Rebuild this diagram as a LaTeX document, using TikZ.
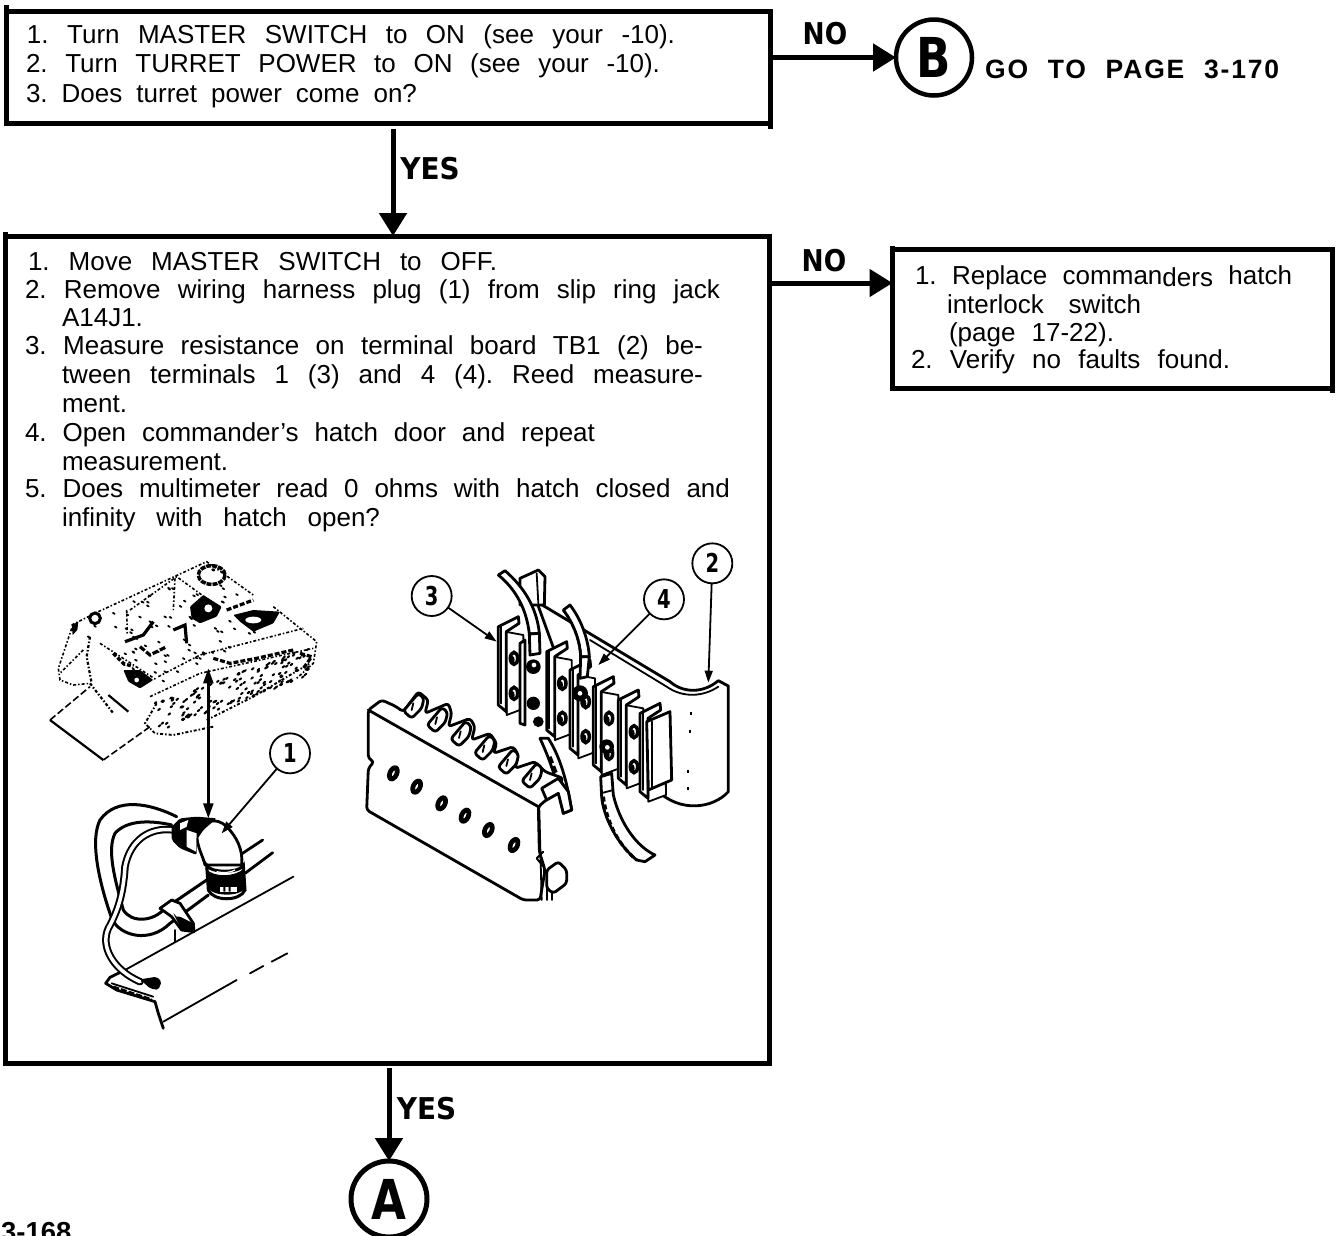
\documentclass[tikz,border=0pt]{standalone}
\usepackage{fontspec}
\setmainfont{Liberation Sans}
\newfontfamily\heavy{DejaVu Sans Bold}
\usetikzlibrary{arrows.meta,calc}
\frenchspacing
\tikzset{
  tl/.style={anchor=base west,inner sep=0pt,outer sep=0pt,font=\fontsize{26}{30}\selectfont},
  mainbox/.style={draw=black,line width=5pt,inner sep=0pt,outer sep=0pt,anchor=north west},
  flow/.style={line width=5pt,-{Triangle[length=23pt,width=27pt]}},
  bigcirc/.style={draw=black,circle,line width=4.5pt,inner sep=0pt,outer sep=0pt,minimum size=76pt,font=\heavy\fontsize{55}{55}\selectfont},
  lab/.style={inner sep=0pt,outer sep=0pt,font=\heavy\fontsize{30}{30}\selectfont},
  callout/.style={draw=black,circle,line width=1.8pt,inner sep=0pt,outer sep=0pt,minimum size=40pt,font=\heavy\fontsize{26}{26}\selectfont},
  lead/.style={line width=1.8pt,-{Triangle[length=12pt,width=8pt]}},
  ink/.style={line width=1.8pt,line cap=round,line join=round},
  hvy/.style={line width=2.8pt,line cap=round,line join=round},
  tankd/.style={line width=1.6pt,dash pattern=on 3pt off 2pt on 1.5pt off 2pt},
}
\newcommand{\J}[2]{\makebox[#1pt][s]{#2}}
\newcommand{\Sq}[2]{\scalebox{#1}[1]{#2}}
\begin{document}
\begin{tikzpicture}[x=1pt,y=-1pt]
\useasboundingbox (0,0) rectangle (1340,1235);
\fill[white] (0,0) rectangle (1340,1235);
% boxes
\node[mainbox,minimum width=764pt,minimum height=112.5pt] (b1) at (6.5,11) {};
\node[mainbox,minimum width=764pt,minimum height=827pt] (b2) at (5.5,236) {};
\node[mainbox,minimum width=439.5pt,minimum height=139pt] (b3) at (892.5,249) {};
\draw[line width=5pt] (b1.north west) -- ++(0,-6) (b1.south east) -- ++(0,5) (b2.north west) -- ++(0,-4) (b3.south east) -- ++(0,5) (b3.north west) -- ++(0,-3);
% box 1 text
\node[tl] (t11) at (27,43.5) {\J{648}{1. Turn MASTER SWITCH to ON (see your -10).}};
\node[tl] (t12) at (26,72.7) {\J{634}{2. Turn TURRET POWER to ON (see your -10).}};
\node[tl] (t13) at (26,102.5) {\J{391}{3. Does turret power come on?}};
% box 2 text
\node[tl] (t21) at (28,270) {\J{469}{1. Move MASTER SWITCH to OFF.}};
\node[tl] (t22) at (25,298) {\J{695}{2. Remove wiring harness plug (1) from slip ring jack}};
\node[tl] (t23) at (62,326) {A14J1.};
\node[tl] (t24) at (25,354) {\J{678}{3. Measure resistance on terminal board TB1 (2) be-}};
\node[tl] (t25) at (62,383) {\J{641}{tween terminals 1 (3) and 4 (4). Reed measure-}};
\node[tl] (t26) at (62,412) {ment.};
\node[tl] (t27) at (25,441) {\J{570}{4. Open commander's hatch door and repeat}};
\node[tl] (t28) at (62,470) {measurement.};
\node[tl] (t29) at (25,497.5) {\J{705}{5. Does multimeter read 0 ohms with hatch closed and}};
\node[tl] (t210) at (62,526) {\J{318}{infinity with hatch open?}};
% box 3 text
\node[tl] (t31) at (915,284) {\J{377}{1. Replace comman\raisebox{-2.5pt}{ders} hatch}};
\node[tl] (t32) at (947,313) {\J{194}{interlock switch}};
\node[tl] (t33) at (949,341) {\J{165}{(page 17-22).}};
\node[tl] (t34) at (911,368) {\J{319}{2. Verify no faults found.}};
% circles and connectors
\node[bigcirc] (cB) at (934,57.5) {\Sq{0.82}{B}};
\node[bigcirc,line width=5pt] (cA) at (389,1199) {\Sq{0.82}{A}};
\draw[flow] (b1.east |- cB.center) -- (cB.west);
\coordinate (n2) at (769.5,283);
\draw[flow] (n2) -- (n2 -| b3.west);
\coordinate (y1) at (393,129);
\draw[flow] (y1) -- (y1 |- b2.north);
\coordinate (y2) at (389,1068);
\draw[flow] (y2) -- (cA.north);
\node[lab] (no1) at (825,34) {\Sq{0.88}{NO}};
\node[lab] (no2) at (824,261) {\Sq{0.88}{NO}};
\node[lab] (ye1) at (430,169) {\Sq{0.93}{YES}};
\node[lab] (ye2) at (426.5,1109) {\Sq{0.93}{YES}};
\node[anchor=base west,inner sep=0pt,font=\bfseries\fontsize{26.5}{30}\selectfont] (goto) at (985,78)
  {\makebox[294pt][s]{\addfontfeature{LetterSpace=7}GO TO PAGE 3-170}};
\node[anchor=base west,inner sep=0pt,font=\bfseries\fontsize{27.5}{30}\selectfont] (pg) at (1,1241) {3-168};

% ---- illustration 1
\begin{scope}[shift={(40,540)},x=0.33333pt,y=-0.33333pt]
 % tank
 \draw[tankd] (175,215)--(500,65)--(640,165) (700,200)--(830,305)--(820,370)--(770,415);
 \draw[tankd] (95,255)--(175,215) (95,265)--(55,385)--(60,420)--(100,435)--(150,430);
 \draw[tankd] (355,410)--(480,345)--(790,265);
 \draw[tankd] (330,470)--(480,400)--(820,325);
 \draw[tankd] (270,210)--(410,110)--(520,190) (260,210)--(262,285) (405,115)--(400,210);
 \draw[tankd] (130,330)--(60,400) (180,310)--(350,420);
 \draw[tankd,line width=2.2pt] (150,290)--(140,350)--(155,430) (150,430)--(220,520);
 \draw[tankd,line width=1.9pt] (350,490)--(315,550)--(345,580)--(400,585)--(520,560);
 \draw[tankd,line width=1.9pt] (500,540)--(640,470)--(810,370);
 \draw[line width=2.2pt] (30,540)--(190,660) (205,465)--(265,515);
 \draw[line width=1.6pt,dash pattern=on 7pt off 3pt] (30,540)--(150,440) (190,660)--(330,560);
 % stipple
 \pgfmathsetseed{17}
 \foreach \k in {1,...,150} {
   \pgfmathsetmacro{\uu}{rnd}\pgfmathsetmacro{\vv}{rnd}
   \pgfmathsetmacro{\px}{340+460*\uu+10*\vv}
   \pgfmathsetmacro{\py}{490-165*\uu+85*\vv}
   \draw[line width=2pt,line cap=round] (\px,\py)--++(5,-4);
 }
 \foreach \k in {1,...,90} {
   \pgfmathsetmacro{\uu}{rnd}\pgfmathsetmacro{\vv}{rnd}
   \pgfmathsetmacro{\px}{95+405*\uu+235*\vv}
   \pgfmathsetmacro{\py}{260-190*\uu+190*\vv}
   \draw[line width=1.8pt,line cap=round] (\px,\py)--++(5,3);
 }
 % blobs
 \draw[line width=3.5pt,dash pattern=on 5pt off 1pt] (515,105) ellipse[x radius=40,y radius=28];
 \draw[line width=3pt] (165,235) circle[radius=16];
 \fill (95,255)--(115,245)--(112,270)--(98,285)--cycle;
 \fill[rounded corners=1pt] (450,200)--(490,165)--(545,200)--(530,230)--(480,250)--(455,235)--cycle;
 \fill[white] (505,205) circle[radius=12];
 \fill[rounded corners=1pt] (580,225)--(640,210)--(720,215)--(700,250)--(640,275)--(600,245)--cycle;
 \fill[white] (640,240) ellipse[x radius=24,y radius=10];
 \fill[rounded corners=1pt] (250,390)--(300,390)--(340,420)--(300,445)--(265,425)--cycle;
 \fill[white] (290,420) circle[radius=7];
 \draw[line width=3.2pt] (255,305)--(310,285)--(340,245) (400,270)--(435,255)--(440,310);
 \draw[line width=3.2pt,dash pattern=on 6pt off 2pt] (300,320)--(330,345)--(380,320);
 \draw[line width=3.2pt,dash pattern=on 5pt off 2pt] (520,355)--(570,370)--(650,355)--(760,330);
 \draw[line width=3.2pt,dash pattern=on 5pt off 2pt] (560,210)--(640,180) (780,340)--(815,350)--(790,385);
 \draw[line width=3.2pt,dash pattern=on 4pt off 2pt] (220,340)--(250,370)--(280,380);
 % double arrow
 \draw[line width=2.4pt,{Triangle[length=15pt,width=10pt]}-{Triangle[length=15pt,width=10pt]}] (505,385)--(505,835);
 % plate
 \draw[ink] (255,1290)--(760,1010);
 \draw[ink] (370,1445)--(590,1320) (630,1300)--(670,1278) (695,1265)--(742,1240);
 \draw[hvy] (255,1290)--(210,1312)--(197,1330)--(230,1350)--(345,1385)--(355,1420)--(370,1465);
 \draw[ink] (215,1330)--(340,1370);
 \draw[line width=2.2pt,dash pattern=on 6pt off 2pt] (220,1340)--(335,1378);
 % tubes behind
 \draw[hvy] (600,945)--(668,900) (615,1000)--(698,938);
 % hoses
 \draw[line width=3pt,line cap=round] (410,830) .. controls (330,790) and (230,770) .. (180,840) .. controls (150,900) and (175,1020) .. (215,1135) .. controls (240,1190) and (330,1210) .. (390,1150) -- (505,1065);
 \draw[line width=3pt,line cap=round] (395,855) .. controls (330,840) and (260,840) .. (225,880) .. controls (200,930) and (225,1020) .. (250,1110) .. controls (275,1150) and (340,1145) .. (375,1105) -- (500,1020);
 % thin cable
 \draw[line width=7.5pt,line cap=round] (400,870) .. controls (330,860) and (270,900) .. (255,980) .. controls (250,1060) and (235,1110) .. (205,1165) .. controls (180,1220) and (220,1290) .. (300,1325);
 \draw[white,line width=3.5pt,line cap=round] (400,870) .. controls (330,860) and (270,900) .. (255,980) .. controls (250,1060) and (235,1110) .. (205,1165) .. controls (180,1220) and (220,1290) .. (300,1325);
 \fill[rounded corners=2pt] (300,1318)--(350,1310)--(365,1325)--(355,1350)--(330,1345)--cycle;
 % clamp
 \draw[hvy,fill=white] (360,1105)--(395,1080)--(420,1090)--(460,1150)--(462,1175)--(425,1170)--(395,1130)--cycle;
 \fill (400,1120)--(460,1150)--(462,1175)--(425,1170)--cycle;
 \fill[white] (385,1100)--(405,1090)--(430,1130)--(410,1130)--cycle;
 \draw[ink] (405,1170)--(405,1205);
 % connector
 \draw[hvy,fill=white] (470,880) .. controls (490,840) and (530,830) .. (560,860) .. controls (590,890) and (610,930) .. (605,975) -- (495,975) .. controls (490,950) and (470,920) .. (470,880);
 \draw[line width=3pt,fill=white] (500,975) .. controls (510,1000) and (600,1000) .. (610,975) -- (615,1050) .. controls (600,1085) and (520,1085) .. (505,1050) -- cycle;
 \fill (497,985) .. controls (520,1015) and (590,1010) .. (612,985) -- (615,1045) .. controls (600,1070) and (520,1070) .. (505,1045) -- cycle;
 \fill[white] (540,1040) rectangle (590,1055);
 \fill[black] (550,1040) rectangle (556,1055) (566,1040) rectangle (572,1055);
 \draw[white,line width=1.2pt] (530,995) .. controls (550,1000) and (570,998) .. (585,990);
 % plug
 \fill[rounded corners=2pt] (395,860)--(420,835)--(470,830)--(530,835)--(490,870)--(470,900)--(470,945)--(420,925)--(395,900)--cycle;
 \fill[white] (440,870)--(470,880)--(468,935)--(440,920)--cycle;
 \fill[white] (420,850)--(445,840)--(440,860)--(420,870)--cycle;
 % callout
 \node[callout] (c1) at (750,640) {\Sq{0.75}{1}};
 \coordinate (p1) at (545,880);
 \draw[lead] (c1) -- (p1);
\end{scope}

% ---- illustration 2
\begin{scope}[shift={(350,530)},x=0.33333pt,y=-0.33333pt]
 % bracket
 \draw[hvy,fill=white] (560,215)--(960,455) .. controls (1000,490) and (1060,490) .. (1105,452) -- (1135,468) -- (1135,785) .. controls (1090,835) and (990,850) .. (920,780) -- (700,600) -- (560,215);
 \draw[ink] (720,330)--(950,470) .. controls (1000,505) and (1060,500) .. (1105,470);
 \draw[hvy,fill=white] (510,145)--(565,120)--(585,140)--(583,225)--(510,225)--cycle;
 \draw[ink] (560,130)--(565,220);
 \foreach \a/\b in {1022/545,1020/600,1015/720,1015/770} {\draw[line width=1.8pt] (\a,\b)--++(0,10);}
 % terminal units
 \foreach \a/\b in {445/290,590/365,660/420,730/470,805/510,870/550} {
  \begin{scope}[shift={(\a,\b)}]
   \draw[ink,fill=white] (20,15)--(75,25)--(78,245)--(25,265)--cycle;
   \draw[hvy,fill=white] (0,0)--(60,-30)--(62,-10)--(24,15)--(24,255)--(0,235)--cycle;
   \draw[ink] (8,0)--(8,230);
   \draw[line width=3.5pt,fill=white] (47,95) ellipse[x radius=11,y radius=18];
   \fill (42,100) ellipse[x radius=7,y radius=12];
   \draw[line width=3.5pt,fill=white] (47,200) ellipse[x radius=11,y radius=18];
   \fill (42,205) ellipse[x radius=7,y radius=12];
  \end{scope}
 }
 \draw[hvy,fill=white] (510,340)--(525,330)--(525,585)--(510,580)--cycle;
 \draw[hvy,fill=white] (890,575)--(960,545)--(965,750)--(895,780)--cycle;
 \draw[ink] (905,575)--(905,770);
 % cables
 \draw[hvy,fill=white] (445,135)--(465,122) .. controls (520,170) and (560,230) .. (568,310) -- (538,312) .. controls (530,240) and (500,180) .. (445,135);
 \draw[hvy,fill=white] (538,312)--(568,310)--(570,370)--(540,375)--cycle;
 \draw[hvy,fill=white] (640,240)--(660,225) .. controls (695,270) and (715,330) .. (718,380) -- (692,380) .. controls (690,330) and (670,280) .. (640,240);
 \draw[line width=2.6pt,dash pattern=on 4pt off 2pt] (640,240) .. controls (670,280) and (690,330) .. (692,380);
 \draw[hvy,fill=white] (692,380)--(718,380)--(712,440)--(690,445)--cycle;
 \fill (550,410) circle[radius=22];
 \fill[white] (552,405) circle[radius=7];
 \fill (690,490) circle[radius=24];
 \fill[white] (690,490) circle[radius=7];
 \draw[hvy,fill=white] (570,625)--(595,625) .. controls (630,680) and (650,750) .. (665,840) -- (640,850) .. controls (625,760) and (600,690) .. (570,625);
 \fill (550,520) circle[radius=20];
 \fill (565,575) circle[radius=16];
 \fill (770,650) circle[radius=22];
 \fill[white] (772,652) circle[radius=7];
 \draw[line width=3.2pt,dash pattern=on 7pt off 3pt] (600,680)--(625,745);
 \draw[hvy,fill=white] (752,740)--(785,730)--(790,795) .. controls (810,880) and (860,950) .. (915,975) -- (885,995) -- (860,990) .. controls (800,940) and (760,860) .. (755,800)--cycle;
 \draw[line width=3.2pt,dash pattern=on 5pt off 3pt] (760,800) .. controls (770,880) and (810,950) .. (860,990);
 \draw[ink] (752,790)--(790,780);
 % comb block
 \draw[hvy,fill=white,rounded corners=3pt] (55,540)--(95,510)--(135,528)--(160,545)--(205,485)--(235,510)--(225,550)
   --(295,520)--(305,550)--(295,590)--(360,565)--(375,590)--(365,630)--(420,610)--(440,640)--(430,670)
   --(490,650)--(505,675)--(495,715)--(555,695)--(585,725)--(640,745)--(600,800)--(565,830)
   --(568,965)--(585,1020)--(570,1110)--(520,1110)--(50,840)--(55,715)--(72,695)--(55,685)--cycle;
 \draw[hvy] (55,540)--(565,830);
 \foreach \i in {0,...,5} {
  \begin{scope}[shift={(\i*71,\i*42)}]
   \draw[hvy,fill=white,rounded corners=3pt] (160,543) -- (205,490) -- (222,505) -- (215,535) -- (185,565) -- cycle;
   \draw[ink] (190,520)--(185,540);
  \end{scope}
 }
 \foreach \a/\b in {130/730,200/770,275/820,345/857,415/900,492/945} {
   \draw[line width=2.8pt,fill=white,rotate around={-25:(\a,\b)}] (\a,\b) ellipse[x radius=13,y radius=21];
   \draw[line width=3pt,rotate around={-25:(\a,\b)}] (\a,\b) ellipse[x radius=8,y radius=15];
 }
 \draw[hvy,fill=white] (575,775)--(625,745)--(655,785)--(665,840)--(640,850)--(625,790)--(590,810)--cycle;
 \draw[ink] (568,840)--(575,1110) (580,965)--(560,985)--(580,1010);
 \draw[hvy,fill=white,rounded corners=3pt] (590,1020)--(625,995)--(650,1020)--(650,1060)--(610,1090)--(590,1075)--cycle;
 \draw[ink] (590,1075)--(590,1110) (605,1085)--(605,1110);
 % callouts
 \node[callout] (c2) at (1087,100) {\Sq{0.75}{2}};
 \node[callout] (c3) at (245,198) {\Sq{0.75}{3}};
 \node[callout] (c4) at (942,208) {\Sq{0.75}{4}};
 \coordinate (p2) at (1075,458);
 \coordinate (p3) at (440,335);
 \coordinate (p4) at (745,405);
 \draw[lead] (c2) -- (p2);
 \draw[lead] (c3) -- (p3);
 \draw[lead] (c4) -- (p4);
\end{scope}
\end{tikzpicture}
\end{document}
